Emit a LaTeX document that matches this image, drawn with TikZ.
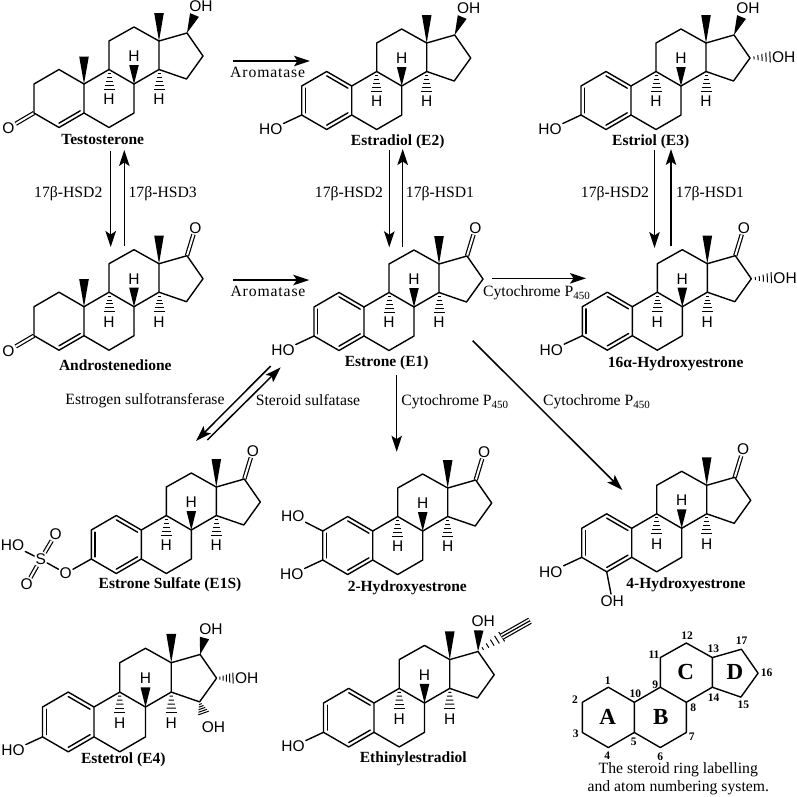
\documentclass[tikz,border=0pt]{standalone}
\usepackage{fontspec}
\setmainfont{Liberation Serif}
\newfontfamily\atomfont{Liberation Sans}
\newfontfamily\widefont[LetterSpace=5.5]{Liberation Serif}
\usetikzlibrary{arrows.meta, calc}
\tikzset{
    bond/.style={line width=1.4pt, line cap=round, line join=round},
    dblbond/.style={line width=1.2pt, double, double distance=2pt},
    triplebond/.style={line width=1.2pt},
    hashline/.style={line width=1pt},
    atom/.style={font=\atomfont\fontsize{15.5}{16}\selectfont, inner sep=1pt},
    compound/.style={font=\bfseries\fontsize{15.5}{17}\selectfont, inner sep=0pt},
    enzyme/.style={font=\fontsize{15.7}{18}\selectfont, inner sep=0pt},
    react/.style={->, line width=1.5pt},
    atomno/.style={font=\bfseries\fontsize{11.5}{12}\selectfont, inner sep=0pt},
    ringname/.style={font=\bfseries\fontsize{23}{24}\selectfont, inner sep=0pt},
}
% solid wedge, narrow at #1
\newcommand{\wedgebond}[2]{%
    \fill ($(#1)$) -- ($(#2)!4.8pt!90:(#1)$) -- ($(#2)!4.8pt!-90:(#1)$) -- cycle;
}
% hashed wedge, narrow at #1
\newcommand{\hashbond}[2]{%
    \foreach \pos in {.2, .4, .6, .8, 1}{
        \pgfmathsetmacro{\halfw}{\pos*5+0.5}
        \coordinate (hp) at ($(#1)!\pos!(#2)$);
        \draw [hashline] ($(hp)!\halfw pt!90:(#1)$) -- ($(hp)!\halfw pt!-90:(#1)$);
    }
}
\begin{document}
\begin{tikzpicture}[>={Stealth[length=16pt, width=10.5pt, inset=3.5pt]}, x=1pt, y=-1pt]
        \useasboundingbox (0, 0) rectangle (797, 796);
        % atom positions of every skeleton
        \foreach \m/\cx/\cy/\sc in {tes/84/84/1, ads/84/306.7/1, eb/351.7/86/1, et/631/86/1, eo/364/307/1, hs/632.3/306.7/1, es/141.3/530/1, ht/372.7/531/1, hf/631.7/528.3/1, ef/94/707/1.03, ee/374/703/1.01, num/634.3/702.3/1.04}{
            \begin{scope}[shift={(\cx, \cy)}, scale=\sc]
                \foreach \n/\ax/\ay in {1/-25/-14.5, 2/-50/0, 3/-50/29, 4/-25/43.5, 5/0/29, 6/25/43.5, 7/50/29, 8/50/0, 9/25/-14.5, 10/0/0, 11/25/-43, 12/50/-57, 13/75/-43, 14/75/-14.5, 15/102.5/-5, 16/119/-28, 17/103/-51}{
                    \coordinate (\m c\n) at (\ax, \ay);
                }
                \coordinate (\m A) at (-25, 14.5);
            \end{scope}
        }
        % methyl and ring-junction hydrogens
        \foreach \m/\cx/\cy/\sc in {tes/84/84/1, ads/84/306.7/1, eb/351.7/86/1, et/631/86/1, eo/364/307/1, hs/632.3/306.7/1, es/141.3/530/1, ht/372.7/531/1, hf/631.7/528.3/1, ef/94/707/1.03, ee/374/703/1.01}{
            \begin{scope}[shift={(\cx, \cy)}, scale=\sc]
                \wedgebond{\m c13}{75, -71}
                \wedgebond{\m c8}{50, -19}
                \node [atom] (\m h8) at (50, -28) {H};
                \hashbond{\m c9}{25, 5}
                \node [atom] (\m h9) at (25, 15.5) {H};
                \hashbond{\m c14}{75, 5}
                \node [atom] (\m h14) at (75, 15.5) {H};
            \end{scope}
        }
        % 4-en-3-one ring A
        \foreach \m/\cx/\cy in {tes/84/84, ads/84/306.7}{
            \begin{scope}[shift={(\cx, \cy)}]
                \wedgebond{\m c10}{0, -27.5}
                \node [atom] (\m o3) at (-75.5, 44) {O};
                \draw [dblbond] (\m c3) -- (\m o3);
                \draw [bond] ($(\m c4)!.15!(\m A)$) -- ($(\m c5)!.15!(\m A)$);
            \end{scope}
        }
        % aromatic ring A
        \foreach \m in {eb, et, eo, hs, es, ht, hf, ef, ee}{
            \foreach \a/\b in {1/10, 2/3, 4/5}{
                \draw [bond] ($(\m c\a)!.15!(\m A)$) -- ($(\m c\b)!.15!(\m A)$);
            }
        }
        % 3-OH
        \foreach \m/\cx/\cy in {eb/351.7/86, et/631/86, eo/364/307, hs/632.3/306.7, ht/372.7/531, hf/631.7/528.3, ef/94/707, ee/374/703}{
            \node [atom] (\m o3) at (\cx-81, \cy+43.5) {HO};
            \draw [bond] (\m c3) -- (\m o3);
        }
        % 17-ketone
        \foreach \m/\cx/\cy in {ads/84/306.7, eo/364/307, hs/632.3/306.7, es/141.3/530, ht/372.7/531, hf/631.7/528.3}{
            \node [atom] (\m o17) at (\cx+111.5, \cy-79) {O};
            \draw [dblbond] (\m c17) -- (\m o17);
        }
        % 17-OH
        \foreach \m/\cx/\cy in {tes/84/84, eb/351.7/86, et/631/86, ef/94/707}{
            \wedgebond{\m c17}{\cx+110.5, \cy-69}
            \node [atom] (\m o17) at (\cx+117, \cy-77.5) {OH};
        }
        % 16-OH
        \foreach \m/\cx/\cy in {et/631/86, hs/632.3/306.7, ef/94/707}{
            \hashbond{\m c16}{\cx+139, \cy-29}
            \node [atom] (\m o16) at (\cx+152.8, \cy-29) {OH};
        }
        % estetrol 15-OH
        \hashbond{efc15}{203.5, 713}
        \node [atom] (efo15) at (213.5, 727.5) {OH};
        % ethinylestradiol
        \wedgebond{eec17}{478.7, 630.4}
        \node [atom] (eeo17) at (483.3, 621) {OH};
        \coordinate (eta) at (501.7, 636.7);
        \coordinate (etb) at (530, 620.7);
        \hashbond{eec17}{eta}
        \draw [triplebond, double, double distance=4.4pt] (eta) -- (etb);
        \draw [triplebond] (eta) -- (etb);
        % sulfate group
        \node [atom] (oest) at (65.7, 573.3) {O};
        \node [atom] (sulf) at (40.7, 559.3) {S};
        \node [atom] (ohs) at (12.5, 545) {HO};
        \node [atom] (oup) at (55.7, 534) {O};
        \node [atom] (odn) at (26.7, 584.3) {O};
        \draw [bond] (esc3) -- (oest);
        \draw [bond] (oest) -- (sulf);
        \draw [bond] (ohs) -- (sulf);
        \draw [dblbond] (sulf) -- (oup);
        \draw [dblbond] (sulf) -- (odn);
        % extra hydroxyls
        \node [atom] (hto2) at (292.7, 515.7) {HO};
        \draw [bond] (htc2) -- (hto2);
        \node [atom] (hfo4) at (612.3, 600.7) {OH};
        \draw [bond] (hfc4) -- (hfo4);
        % ring bonds last, over the double-bond cores
        \foreach \m in {tes, ads, eb, et, eo, hs, es, ht, hf, ef, ee, num}{
            \draw [bond] (\m c10) -- (\m c1) -- (\m c2) -- (\m c3) -- (\m c4) -- (\m c5) -- cycle;
            \draw [bond] (\m c5) -- (\m c6) -- (\m c7) -- (\m c8) -- (\m c9) -- (\m c10);
            \draw [bond] (\m c9) -- (\m c11) -- (\m c12) -- (\m c13) -- (\m c14) -- (\m c8);
            \draw [bond] (\m c13) -- (\m c17) -- (\m c16) -- (\m c15) -- (\m c14);
        }
        % reaction arrows
        \foreach \a/\x/\y/\u/\v in {sa/110.7/151/110.7/247, sb/124.3/246/124.3/150, sc/389.3/150/389.3/247.3, sd/402.7/246.7/402.7/149, se/654.5/150/654.5/248, sf/671/246/671/149, sg/233.3/61/310/61, sh/233.3/280/309.3/280, si/492.3/278.3/586/278.3, sj/396.7/375/396.7/451.7, sk/472.7/340.7/622.3/490, sl/270.7/366/196/441, sm/207.3/440/280.7/367.3}{
            \coordinate (\a s) at (\x, \y);
            \coordinate (\a e) at (\u, \v);
            \draw [react] (\a s) -- (\a e);
        }
        % compound names
        \node [compound] (ntes) at (102.7, 139.5) {Testosterone};
        \node [compound] (neb) at (397.7, 141.7) {Estradiol (E2)};
        \node [compound] (net) at (650.7, 141.7) {Estriol (E3)};
        \node [compound] (nads) at (115.3, 365) {Androstenedione};
        \node [compound] (neo) at (386.7, 362.7) {Estrone (E1)};
        \node [compound] (nhs) at (675.7, 363.3) {16α-Hydroxyestrone};
        \node [compound] (nes) at (170, 585) {Estrone Sulfate (E1S)};
        \node [compound] (nht) at (407.3, 587.7) {2-Hydroxyestrone};
        \node [compound] (nhf) at (686, 584.3) {4-Hydroxyestrone};
        \node [compound] (nef) at (123.3, 759.3) {Estetrol (E4)};
        \node [compound] (nee) at (413.3, 758.7) {Ethinylestradiol};
        % enzymes
        \node [enzyme, font=\widefont\fontsize{15.7}{18}\selectfont] (ara) at (267.7, 72.7) {Aromatase};
        \node [enzyme, font=\widefont\fontsize{15.7}{18}\selectfont] (arb) at (268, 291.7) {Aromatase};
        \node [enzyme] (hsa) at (68.3, 193.3) {17β-HSD2};
        \node [enzyme] (hsb) at (162.7, 193.3) {17β-HSD3};
        \node [enzyme] (hsc) at (349, 193.3) {17β-HSD2};
        \node [enzyme] (hsd) at (440, 193.3) {17β-HSD1};
        \node [enzyme] (hse) at (615, 193.3) {17β-HSD2};
        \node [enzyme] (hsf) at (710, 193.3) {17β-HSD1};
        \node [enzyme] (cpa) at (536.7, 293) {Cytochrome P\textsubscript{450}};
        \node [enzyme] (cpb) at (455, 402) {Cytochrome P\textsubscript{450}};
        \node [enzyme] (cpc) at (596.7, 402) {Cytochrome P\textsubscript{450}};
        \node [enzyme] (sult) at (145, 400.5) {Estrogen sulfotransferase};
        \node [enzyme] (sts) at (308, 400.5) {Steroid sulfatase};
        % numbering scheme
        \foreach \lab/\x/\y in {1/607.7/681, 2/575/699.3, 3/575.7/734, 4/607.3/755.7, 5/633.7/742, 6/660.3/756.3, 7/691.7/737, 8/693.3/707.3, 9/655.3/684.3, 10/635.3/694, 11/654/654.7, 12/687/636, 13/713.3/648.3, 14/713.7/697.3, 15/743.3/704.3, 16/766.7/672.3, 17/741.7/640.7}{
            \node [atomno] (no\lab) at (\x, \y) {\lab};
        }
        \node [ringname] (ra) at (607.7, 716.7) {A};
        \node [ringname] (rb) at (660.7, 716.7) {B};
        \node [ringname] (rc) at (685.7, 672.3) {C};
        \node [ringname] (rd) at (735, 672.3) {D};
        \node [enzyme] (capa) at (678.3, 770) {The steroid ring labelling};
        \node [enzyme] (capb) at (678.3, 787.7) {and atom numbering system.};
    \end{tikzpicture}
\end{document}
